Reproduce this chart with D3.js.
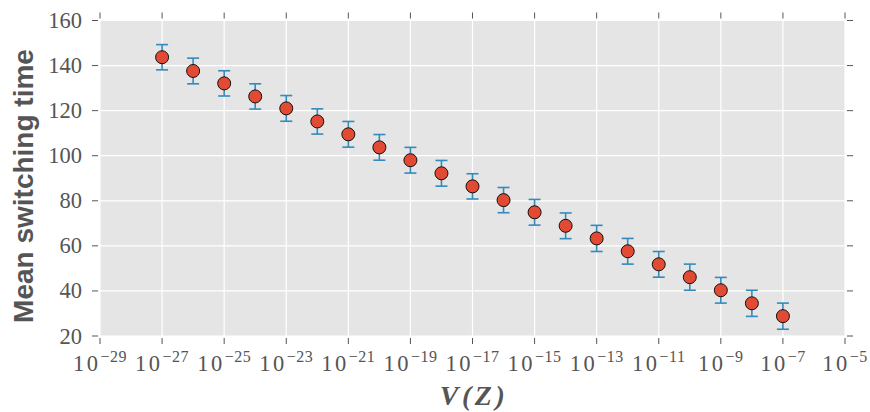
<!DOCTYPE html>
<html><head><meta charset="utf-8">
<script src="https://cdn.jsdelivr.net/npm/d3@7"></script>
<style>body{margin:0;background:#fff}svg{display:block}</style>
</head><body>
<svg id="c" width="870" height="412"></svg>
<script>
const exponents = [-27,-26,-25,-24,-23,-22,-21,-20,-19,-18,-17,-16,-15,-14,-13,-12,-11,-10,-9,-8,-7];
const meanTimes = [143.7,137.6,132.1,126.3,121.0,115.2,109.5,103.7,98.0,92.2,86.4,80.3,74.9,68.9,63.3,57.6,51.8,46.1,40.3,34.5,28.8];
const errors = [5.6,5.7,5.6,5.6,5.7,5.6,5.7,5.7,5.7,5.7,5.6,5.6,5.7,5.7,5.8,5.7,5.7,5.8,5.7,5.8,5.8];
const xTickExps = [-29,-27,-25,-23,-21,-19,-17,-15,-13,-11,-9,-7,-5];
const yTicks = [20,40,60,80,100,120,140,160];

const svg = d3.select("#c");
const L=100, R=845, T=20.5, B=336;
const x = d3.scaleLog().domain([1e-29,1e-5]).range([L,R]);
const y = d3.scaleLinear().domain([20,160]).range([B,T]);

svg.append("rect").attr("x",L).attr("y",T).attr("width",R-L).attr("height",B-T).attr("fill","#E5E5E5");
// grid
svg.append("g").selectAll("line").data(xTickExps).join("line")
  .attr("x1",d=>x(Math.pow(10,d))).attr("x2",d=>x(Math.pow(10,d)))
  .attr("y1",T).attr("y2",B).attr("stroke","#fff").attr("stroke-width",1.2);
svg.append("g").selectAll("line").data(yTicks).join("line")
  .attr("y1",d=>y(d)).attr("y2",d=>y(d)).attr("x1",L).attr("x2",R)
  .attr("stroke","#fff").attr("stroke-width",1.2);

// ticks
const tc="#555", tl=6;
const tg = svg.append("g").attr("stroke",tc).attr("stroke-width",1);
xTickExps.forEach(e=>{
  const px=x(Math.pow(10,e));
  tg.append("line").attr("x1",px).attr("x2",px).attr("y1",B+2).attr("y2",B+2+tl);
  tg.append("line").attr("x1",px).attr("x2",px).attr("y1",T-2).attr("y2",T-2-tl);
});
yTicks.forEach(v=>{
  const py=y(v);
  tg.append("line").attr("y1",py).attr("y2",py).attr("x1",L-2).attr("x2",L-2-tl);
  tg.append("line").attr("y1",py).attr("y2",py).attr("x1",R+2).attr("x2",R+2+tl);
});

// tick labels
const serif = "'Liberation Serif','DejaVu Serif',serif";
svg.append("g").selectAll("text").data(yTicks).join("text")
  .attr("x",L-18).attr("y",d=>y(d)+7.5).attr("text-anchor","end")
  .attr("font-family",serif).attr("font-size",22.5).attr("fill",tc).text(d=>d);
const xl = svg.append("g");
xTickExps.forEach(e=>{
  const px=x(Math.pow(10,e));
  const t = xl.append("text").attr("x",px).attr("y",370.5).attr("text-anchor","middle")
    .attr("font-family",serif).attr("font-size",22.5).attr("fill",tc);
  t.append("tspan").attr("letter-spacing",2.5).text("10");
  t.append("tspan").attr("dy",-9).attr("font-size",16).attr("letter-spacing",0.5).text("\u2212"+Math.abs(e));
});

// axis labels
svg.append("text").attr("x",474).attr("y",405).attr("text-anchor","middle")
  .attr("font-family",serif).attr("font-size",28).attr("font-style","italic").attr("font-weight","bold")
  .attr("letter-spacing",3.5).attr("fill",tc).text("V(Z)");
svg.append("text").attr("transform","translate(33,186) rotate(-90)")
  .attr("text-anchor","middle").attr("font-family","'Liberation Sans',Arial,sans-serif")
  .attr("font-size",28).attr("font-weight","bold").attr("fill",tc).text("Mean switching time");

// data
const data = exponents.map((e,i)=>({v:Math.pow(10,e), m:meanTimes[i], s:errors[i]}));
const eb = svg.append("g").attr("stroke","#348ABD").attr("stroke-width",1.6);
data.forEach(d=>{
  const px=x(d.v);
  eb.append("line").attr("x1",px).attr("x2",px).attr("y1",y(d.m+d.s)).attr("y2",y(d.m-d.s));
  eb.append("line").attr("x1",px-6).attr("x2",px+6).attr("y1",y(d.m+d.s)).attr("y2",y(d.m+d.s));
  eb.append("line").attr("x1",px-6).attr("x2",px+6).attr("y1",y(d.m-d.s)).attr("y2",y(d.m-d.s));
});
svg.append("g").selectAll("circle").data(data).join("circle")
  .attr("cx",d=>x(d.v)).attr("cy",d=>y(d.m)).attr("r",6.5)
  .attr("fill","#E24A33").attr("stroke","#111").attr("stroke-width",1);
</script>
</body></html>
